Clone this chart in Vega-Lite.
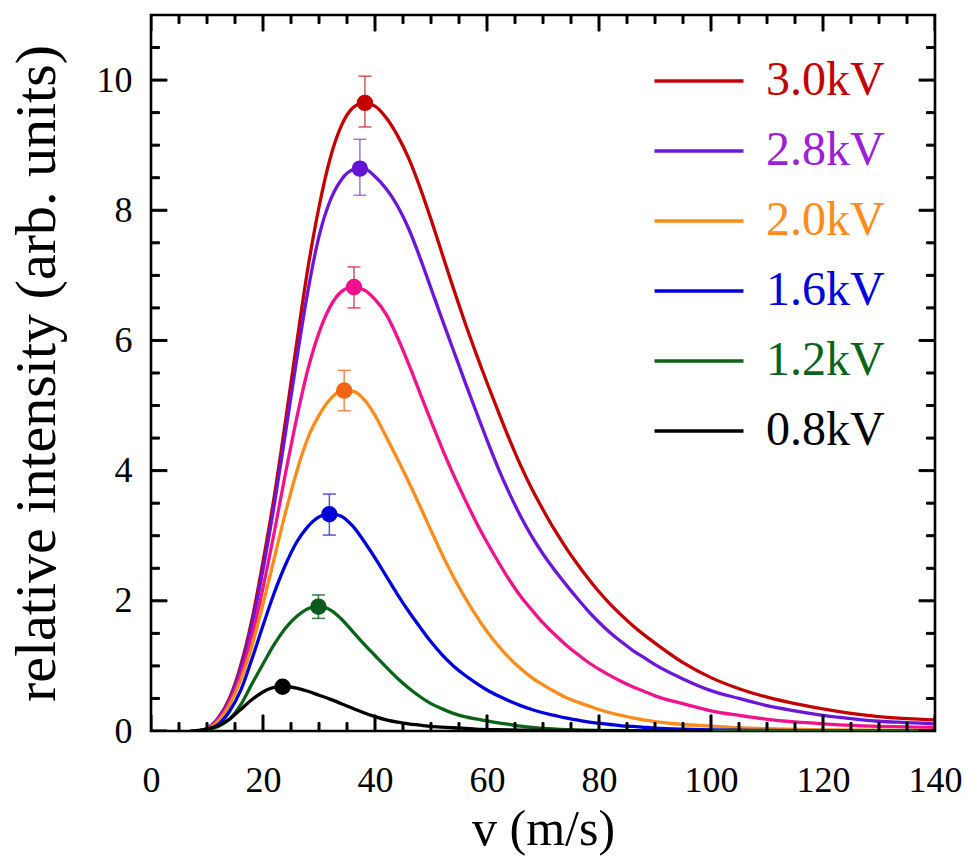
{
  "$schema": "https://vega.github.io/schema/vega-lite/v6.json",
  "width": 784,
  "height": 716,
  "autosize": {"type": "none"},
  "padding": {"left": 151, "top": 15, "right": 31, "bottom": 132},
  "background": "white",
  "config": {
    "font": "Liberation Serif",
    "view": {"stroke": "black", "strokeWidth": 2.6},
    "axis": {
      "domain": false, "grid": false, "ticks": false,
      "labelColor": "black", "labelFont": "Liberation Serif", "labelFontSize": 36,
      "titleFont": "Liberation Serif", "titleFontSize": 50, "titleFontWeight": "normal", "titleColor": "black",
      "labelFlush": false, "labelOverlap": false
    },
    "tick": {"stroke": "black", "strokeWidth": 1, "strokeOpacity": 1}
  },
  "datasets": {
    "xmaj": [{"t":0},{"t":20},{"t":40},{"t":60},{"t":80},{"t":100},{"t":120},{"t":140}],
    "xmin": [{"t":5},{"t":10},{"t":15},{"t":25},{"t":30},{"t":35},{"t":45},{"t":50},{"t":55},{"t":65},{"t":70},{"t":75},{"t":85},{"t":90},{"t":95},{"t":105},{"t":110},{"t":115},{"t":125},{"t":130},{"t":135}],
    "ymaj": [{"t":0},{"t":2},{"t":4},{"t":6},{"t":8},{"t":10}],
    "ymin": [{"t":0.5},{"t":1},{"t":1.5},{"t":2.5},{"t":3},{"t":3.5},{"t":4.5},{"t":5},{"t":5.5},{"t":6.5},{"t":7},{"t":7.5},{"t":8.5},{"t":9},{"t":9.5},{"t":10.5}],
    "curves": [
      {"s":"3.0kV","v":8,"I":0},{"s":"3.0kV","v":10,"I":0.04},{"s":"3.0kV","v":12,"I":0.2},{"s":"3.0kV","v":14,"I":0.5},{"s":"3.0kV","v":16,"I":1.0},{"s":"3.0kV","v":18,"I":1.7},{"s":"3.0kV","v":20,"I":2.6},{"s":"3.0kV","v":22,"I":3.6},{"s":"3.0kV","v":24,"I":4.75},{"s":"3.0kV","v":26,"I":5.95},{"s":"3.0kV","v":28,"I":7.1},{"s":"3.0kV","v":30,"I":8.05},{"s":"3.0kV","v":32,"I":8.8},{"s":"3.0kV","v":34,"I":9.3},{"s":"3.0kV","v":36,"I":9.57},{"s":"3.0kV","v":38,"I":9.65},{"s":"3.0kV","v":40,"I":9.6},{"s":"3.0kV","v":42,"I":9.42},{"s":"3.0kV","v":44,"I":9.15},{"s":"3.0kV","v":46,"I":8.8},{"s":"3.0kV","v":48,"I":8.36},{"s":"3.0kV","v":50,"I":7.86},{"s":"3.0kV","v":52,"I":7.33},{"s":"3.0kV","v":54,"I":6.8},{"s":"3.0kV","v":56,"I":6.29},{"s":"3.0kV","v":58,"I":5.81},{"s":"3.0kV","v":60,"I":5.35},{"s":"3.0kV","v":62,"I":4.91},{"s":"3.0kV","v":64,"I":4.48},{"s":"3.0kV","v":66,"I":4.08},{"s":"3.0kV","v":68,"I":3.72},{"s":"3.0kV","v":70,"I":3.4},{"s":"3.0kV","v":72,"I":3.1},{"s":"3.0kV","v":74,"I":2.83},{"s":"3.0kV","v":76,"I":2.58},{"s":"3.0kV","v":78,"I":2.35},{"s":"3.0kV","v":80,"I":2.14},{"s":"3.0kV","v":82,"I":1.95},{"s":"3.0kV","v":84,"I":1.78},{"s":"3.0kV","v":86,"I":1.62},{"s":"3.0kV","v":88,"I":1.48},{"s":"3.0kV","v":90,"I":1.35},{"s":"3.0kV","v":95,"I":1.05},{"s":"3.0kV","v":100,"I":0.82},{"s":"3.0kV","v":105,"I":0.65},{"s":"3.0kV","v":110,"I":0.52},{"s":"3.0kV","v":115,"I":0.42},{"s":"3.0kV","v":120,"I":0.34},{"s":"3.0kV","v":125,"I":0.27},{"s":"3.0kV","v":130,"I":0.22},{"s":"3.0kV","v":135,"I":0.19},{"s":"3.0kV","v":140,"I":0.17},
      {"s":"2.8kV","v":8,"I":0},{"s":"2.8kV","v":10,"I":0.04},{"s":"2.8kV","v":12,"I":0.19},{"s":"2.8kV","v":14,"I":0.48},{"s":"2.8kV","v":16,"I":0.95},{"s":"2.8kV","v":18,"I":1.62},{"s":"2.8kV","v":20,"I":2.48},{"s":"2.8kV","v":22,"I":3.47},{"s":"2.8kV","v":24,"I":4.57},{"s":"2.8kV","v":26,"I":5.7},{"s":"2.8kV","v":28,"I":6.75},{"s":"2.8kV","v":30,"I":7.6},{"s":"2.8kV","v":32,"I":8.15},{"s":"2.8kV","v":34,"I":8.47},{"s":"2.8kV","v":36,"I":8.62},{"s":"2.8kV","v":38,"I":8.64},{"s":"2.8kV","v":40,"I":8.52},{"s":"2.8kV","v":42,"I":8.33},{"s":"2.8kV","v":44,"I":8.07},{"s":"2.8kV","v":46,"I":7.72},{"s":"2.8kV","v":48,"I":7.28},{"s":"2.8kV","v":50,"I":6.8},{"s":"2.8kV","v":52,"I":6.32},{"s":"2.8kV","v":54,"I":5.85},{"s":"2.8kV","v":56,"I":5.38},{"s":"2.8kV","v":58,"I":4.92},{"s":"2.8kV","v":60,"I":4.47},{"s":"2.8kV","v":62,"I":4.04},{"s":"2.8kV","v":64,"I":3.65},{"s":"2.8kV","v":66,"I":3.3},{"s":"2.8kV","v":68,"I":2.99},{"s":"2.8kV","v":70,"I":2.72},{"s":"2.8kV","v":72,"I":2.48},{"s":"2.8kV","v":74,"I":2.26},{"s":"2.8kV","v":76,"I":2.05},{"s":"2.8kV","v":78,"I":1.85},{"s":"2.8kV","v":80,"I":1.67},{"s":"2.8kV","v":82,"I":1.51},{"s":"2.8kV","v":84,"I":1.37},{"s":"2.8kV","v":86,"I":1.24},{"s":"2.8kV","v":88,"I":1.13},{"s":"2.8kV","v":90,"I":1.02},{"s":"2.8kV","v":95,"I":0.8},{"s":"2.8kV","v":100,"I":0.62},{"s":"2.8kV","v":105,"I":0.5},{"s":"2.8kV","v":110,"I":0.39},{"s":"2.8kV","v":115,"I":0.31},{"s":"2.8kV","v":120,"I":0.24},{"s":"2.8kV","v":125,"I":0.19},{"s":"2.8kV","v":130,"I":0.15},{"s":"2.8kV","v":135,"I":0.13},{"s":"2.8kV","v":140,"I":0.11},
      {"s":"2.4kV","v":8,"I":0},{"s":"2.4kV","v":10,"I":0.035},{"s":"2.4kV","v":12,"I":0.17},{"s":"2.4kV","v":14,"I":0.44},{"s":"2.4kV","v":16,"I":0.86},{"s":"2.4kV","v":18,"I":1.45},{"s":"2.4kV","v":20,"I":2.2},{"s":"2.4kV","v":22,"I":3.05},{"s":"2.4kV","v":24,"I":3.95},{"s":"2.4kV","v":26,"I":4.8},{"s":"2.4kV","v":28,"I":5.55},{"s":"2.4kV","v":30,"I":6.12},{"s":"2.4kV","v":32,"I":6.52},{"s":"2.4kV","v":34,"I":6.75},{"s":"2.4kV","v":36,"I":6.82},{"s":"2.4kV","v":38,"I":6.78},{"s":"2.4kV","v":40,"I":6.63},{"s":"2.4kV","v":42,"I":6.4},{"s":"2.4kV","v":44,"I":6.05},{"s":"2.4kV","v":46,"I":5.64},{"s":"2.4kV","v":48,"I":5.2},{"s":"2.4kV","v":50,"I":4.76},{"s":"2.4kV","v":52,"I":4.34},{"s":"2.4kV","v":54,"I":3.94},{"s":"2.4kV","v":56,"I":3.57},{"s":"2.4kV","v":58,"I":3.22},{"s":"2.4kV","v":60,"I":2.9},{"s":"2.4kV","v":62,"I":2.6},{"s":"2.4kV","v":64,"I":2.32},{"s":"2.4kV","v":66,"I":2.07},{"s":"2.4kV","v":68,"I":1.86},{"s":"2.4kV","v":70,"I":1.66},{"s":"2.4kV","v":72,"I":1.49},{"s":"2.4kV","v":74,"I":1.33},{"s":"2.4kV","v":76,"I":1.19},{"s":"2.4kV","v":78,"I":1.06},{"s":"2.4kV","v":80,"I":0.95},{"s":"2.4kV","v":82,"I":0.85},{"s":"2.4kV","v":84,"I":0.76},{"s":"2.4kV","v":86,"I":0.68},{"s":"2.4kV","v":88,"I":0.61},{"s":"2.4kV","v":90,"I":0.54},{"s":"2.4kV","v":95,"I":0.42},{"s":"2.4kV","v":100,"I":0.31},{"s":"2.4kV","v":105,"I":0.24},{"s":"2.4kV","v":110,"I":0.18},{"s":"2.4kV","v":115,"I":0.14},{"s":"2.4kV","v":120,"I":0.11},{"s":"2.4kV","v":125,"I":0.085},{"s":"2.4kV","v":130,"I":0.07},{"s":"2.4kV","v":135,"I":0.062},{"s":"2.4kV","v":140,"I":0.057},
      {"s":"2.0kV","v":8,"I":0},{"s":"2.0kV","v":10,"I":0.03},{"s":"2.0kV","v":12,"I":0.15},{"s":"2.0kV","v":14,"I":0.4},{"s":"2.0kV","v":16,"I":0.78},{"s":"2.0kV","v":18,"I":1.3},{"s":"2.0kV","v":20,"I":1.95},{"s":"2.0kV","v":22,"I":2.65},{"s":"2.0kV","v":24,"I":3.35},{"s":"2.0kV","v":26,"I":3.98},{"s":"2.0kV","v":28,"I":4.5},{"s":"2.0kV","v":30,"I":4.85},{"s":"2.0kV","v":32,"I":5.1},{"s":"2.0kV","v":34,"I":5.22},{"s":"2.0kV","v":36,"I":5.22},{"s":"2.0kV","v":38,"I":5.1},{"s":"2.0kV","v":40,"I":4.85},{"s":"2.0kV","v":42,"I":4.52},{"s":"2.0kV","v":44,"I":4.18},{"s":"2.0kV","v":46,"I":3.83},{"s":"2.0kV","v":48,"I":3.46},{"s":"2.0kV","v":50,"I":3.08},{"s":"2.0kV","v":52,"I":2.71},{"s":"2.0kV","v":54,"I":2.37},{"s":"2.0kV","v":56,"I":2.06},{"s":"2.0kV","v":58,"I":1.78},{"s":"2.0kV","v":60,"I":1.53},{"s":"2.0kV","v":62,"I":1.31},{"s":"2.0kV","v":64,"I":1.12},{"s":"2.0kV","v":66,"I":0.96},{"s":"2.0kV","v":68,"I":0.82},{"s":"2.0kV","v":70,"I":0.71},{"s":"2.0kV","v":72,"I":0.61},{"s":"2.0kV","v":74,"I":0.52},{"s":"2.0kV","v":76,"I":0.45},{"s":"2.0kV","v":78,"I":0.39},{"s":"2.0kV","v":80,"I":0.33},{"s":"2.0kV","v":82,"I":0.28},{"s":"2.0kV","v":84,"I":0.24},{"s":"2.0kV","v":86,"I":0.2},{"s":"2.0kV","v":88,"I":0.17},{"s":"2.0kV","v":90,"I":0.145},{"s":"2.0kV","v":95,"I":0.1},{"s":"2.0kV","v":100,"I":0.075},{"s":"2.0kV","v":105,"I":0.05},{"s":"2.0kV","v":110,"I":0.035},{"s":"2.0kV","v":115,"I":0.025},{"s":"2.0kV","v":120,"I":0.018},{"s":"2.0kV","v":125,"I":0.014},{"s":"2.0kV","v":130,"I":0.012},{"s":"2.0kV","v":135,"I":0.01},{"s":"2.0kV","v":140,"I":0.01},
      {"s":"1.6kV","v":8,"I":0},{"s":"1.6kV","v":10,"I":0.025},{"s":"1.6kV","v":12,"I":0.1},{"s":"1.6kV","v":14,"I":0.3},{"s":"1.6kV","v":16,"I":0.62},{"s":"1.6kV","v":18,"I":1.1},{"s":"1.6kV","v":20,"I":1.62},{"s":"1.6kV","v":22,"I":2.12},{"s":"1.6kV","v":24,"I":2.55},{"s":"1.6kV","v":26,"I":2.9},{"s":"1.6kV","v":28,"I":3.14},{"s":"1.6kV","v":30,"I":3.29},{"s":"1.6kV","v":32,"I":3.34},{"s":"1.6kV","v":34,"I":3.3},{"s":"1.6kV","v":36,"I":3.15},{"s":"1.6kV","v":38,"I":2.92},{"s":"1.6kV","v":40,"I":2.66},{"s":"1.6kV","v":42,"I":2.38},{"s":"1.6kV","v":44,"I":2.1},{"s":"1.6kV","v":46,"I":1.84},{"s":"1.6kV","v":48,"I":1.6},{"s":"1.6kV","v":50,"I":1.37},{"s":"1.6kV","v":52,"I":1.17},{"s":"1.6kV","v":54,"I":1.0},{"s":"1.6kV","v":56,"I":0.86},{"s":"1.6kV","v":58,"I":0.74},{"s":"1.6kV","v":60,"I":0.63},{"s":"1.6kV","v":62,"I":0.54},{"s":"1.6kV","v":64,"I":0.46},{"s":"1.6kV","v":66,"I":0.39},{"s":"1.6kV","v":68,"I":0.33},{"s":"1.6kV","v":70,"I":0.28},{"s":"1.6kV","v":72,"I":0.24},{"s":"1.6kV","v":74,"I":0.2},{"s":"1.6kV","v":76,"I":0.17},{"s":"1.6kV","v":78,"I":0.14},{"s":"1.6kV","v":80,"I":0.12},{"s":"1.6kV","v":82,"I":0.1},{"s":"1.6kV","v":84,"I":0.08},{"s":"1.6kV","v":86,"I":0.07},{"s":"1.6kV","v":88,"I":0.057},{"s":"1.6kV","v":90,"I":0.045},{"s":"1.6kV","v":95,"I":0.028},{"s":"1.6kV","v":100,"I":0.018},{"s":"1.6kV","v":105,"I":0.012},{"s":"1.6kV","v":110,"I":0.008},{"s":"1.6kV","v":120,"I":0.004},{"s":"1.6kV","v":130,"I":0.002},{"s":"1.6kV","v":140,"I":0.001},
      {"s":"1.2kV","v":8,"I":0},{"s":"1.2kV","v":10,"I":0.02},{"s":"1.2kV","v":12,"I":0.07},{"s":"1.2kV","v":14,"I":0.18},{"s":"1.2kV","v":16,"I":0.4},{"s":"1.2kV","v":18,"I":0.72},{"s":"1.2kV","v":20,"I":1.03},{"s":"1.2kV","v":22,"I":1.33},{"s":"1.2kV","v":24,"I":1.58},{"s":"1.2kV","v":26,"I":1.76},{"s":"1.2kV","v":28,"I":1.88},{"s":"1.2kV","v":30,"I":1.92},{"s":"1.2kV","v":32,"I":1.86},{"s":"1.2kV","v":34,"I":1.72},{"s":"1.2kV","v":36,"I":1.53},{"s":"1.2kV","v":38,"I":1.34},{"s":"1.2kV","v":40,"I":1.16},{"s":"1.2kV","v":42,"I":0.98},{"s":"1.2kV","v":44,"I":0.81},{"s":"1.2kV","v":46,"I":0.66},{"s":"1.2kV","v":48,"I":0.53},{"s":"1.2kV","v":50,"I":0.42},{"s":"1.2kV","v":52,"I":0.34},{"s":"1.2kV","v":54,"I":0.27},{"s":"1.2kV","v":56,"I":0.22},{"s":"1.2kV","v":58,"I":0.185},{"s":"1.2kV","v":60,"I":0.155},{"s":"1.2kV","v":62,"I":0.125},{"s":"1.2kV","v":64,"I":0.1},{"s":"1.2kV","v":66,"I":0.075},{"s":"1.2kV","v":68,"I":0.055},{"s":"1.2kV","v":70,"I":0.04},{"s":"1.2kV","v":75,"I":0.02},{"s":"1.2kV","v":80,"I":0.01},{"s":"1.2kV","v":90,"I":0.005},{"s":"1.2kV","v":100,"I":0.002},{"s":"1.2kV","v":110,"I":0.001},{"s":"1.2kV","v":140,"I":0},
      {"s":"0.8kV","v":7,"I":0},{"s":"0.8kV","v":8,"I":0.005},{"s":"0.8kV","v":10,"I":0.03},{"s":"0.8kV","v":12,"I":0.08},{"s":"0.8kV","v":14,"I":0.18},{"s":"0.8kV","v":16,"I":0.33},{"s":"0.8kV","v":18,"I":0.48},{"s":"0.8kV","v":20,"I":0.6},{"s":"0.8kV","v":22,"I":0.67},{"s":"0.8kV","v":24,"I":0.68},{"s":"0.8kV","v":26,"I":0.66},{"s":"0.8kV","v":28,"I":0.61},{"s":"0.8kV","v":30,"I":0.55},{"s":"0.8kV","v":32,"I":0.49},{"s":"0.8kV","v":34,"I":0.42},{"s":"0.8kV","v":36,"I":0.35},{"s":"0.8kV","v":38,"I":0.28},{"s":"0.8kV","v":40,"I":0.22},{"s":"0.8kV","v":42,"I":0.17},{"s":"0.8kV","v":44,"I":0.135},{"s":"0.8kV","v":46,"I":0.11},{"s":"0.8kV","v":48,"I":0.09},{"s":"0.8kV","v":50,"I":0.07},{"s":"0.8kV","v":54,"I":0.05},{"s":"0.8kV","v":58,"I":0.03},{"s":"0.8kV","v":62,"I":0.02},{"s":"0.8kV","v":70,"I":0.01},{"s":"0.8kV","v":80,"I":0.005},{"s":"0.8kV","v":90,"I":0.002},{"s":"0.8kV","v":100,"I":0.001}
    ],
    "peaks": [
      {"s":"3.0kV","v":38.2,"I":9.65,"lo":9.28,"hi":10.06},
      {"s":"2.8kV","v":37.3,"I":8.64,"lo":8.23,"hi":9.09},
      {"s":"2.4kV","v":36.25,"I":6.82,"lo":6.5,"hi":7.13},
      {"s":"2.0kV","v":34.5,"I":5.23,"lo":4.92,"hi":5.54},
      {"s":"1.6kV","v":31.85,"I":3.33,"lo":3.01,"hi":3.64},
      {"s":"1.2kV","v":29.9,"I":1.91,"lo":1.73,"hi":2.09},
      {"s":"0.8kV","v":23.5,"I":0.68,"lo":0.68,"hi":0.68}
    ]
  },
  "layer": [
    {
      "data": {"name": "curves"},
      "mark": {"type": "line", "strokeWidth": 3.3, "interpolate": "monotone", "clip": true},
      "encoding": {
        "x": {"field": "v", "type": "quantitative", "scale": {"domain": [0, 140], "nice": false, "zero": false},
          "axis": {"orient": "bottom", "values": [0,20,40,60,80,100,120,140],
            "labelPadding": 32, "title": "v (m/s)", "titlePadding": 6}},
        "y": {"field": "I", "type": "quantitative", "scale": {"domain": [0, 11], "nice": false, "zero": false},
          "axis": {"orient": "left", "values": [0,2,4,6,8,10],
            "labelPadding": 19, "title": "relative intensity (arb. units)", "titleFontSize": 58, "titlePadding": 30}},
        "color": {"field": "s", "type": "nominal",
          "scale": {"domain": ["3.0kV","2.8kV","2.4kV","2.0kV","1.6kV","1.2kV","0.8kV"],
                    "range": ["#c40000","#6b16d9","#f2128c","#ff8c1a","#0000dc","#0a6418","#000000"]},
          "legend": {"orient": "none", "legendX": 524, "legendY": 42, "padding": 0, "title": null,
            "values": ["3.0kV","2.8kV","2.0kV","1.6kV","1.2kV","0.8kV"],
            "symbolType": "M-2.5,0H2.5", "symbolSize": 1267, "symbolStrokeWidth": 3.6,
            "labelFont": "Liberation Serif", "labelFontSize": 48, "labelOffset": 43, "rowPadding": 22,
            "labelColor": {"expr": "datum.value === '3.0kV' ? '#c40000' : datum.value === '2.8kV' ? '#9b20d8' : datum.value === '2.0kV' ? '#ff8c1a' : datum.value === '1.6kV' ? '#0000dc' : datum.value === '1.2kV' ? '#0a6418' : '#000000'"}}}
      }
    },
    {
      "data": {"name": "xmaj"},
      "mark": {"type": "tick", "orient": "vertical", "size": 32, "thickness": 2, "color": "black", "stroke": "black", "strokeWidth": 1, "opacity": 1, "clip": true},
      "encoding": {"x": {"field": "t", "type": "quantitative", "axis": null}, "y": {"datum": 0, "axis": null}}
    },
    {
      "data": {"name": "xmaj"},
      "mark": {"type": "tick", "orient": "vertical", "size": 32, "thickness": 2, "color": "black", "stroke": "black", "strokeWidth": 1, "opacity": 1, "clip": true},
      "encoding": {"x": {"field": "t", "type": "quantitative", "axis": null}, "y": {"datum": 11, "axis": null}}
    },
    {
      "data": {"name": "xmin"},
      "mark": {"type": "tick", "orient": "vertical", "size": 17, "thickness": 2, "color": "black", "stroke": "black", "strokeWidth": 1, "opacity": 1, "clip": true},
      "encoding": {"x": {"field": "t", "type": "quantitative", "axis": null}, "y": {"datum": 0, "axis": null}}
    },
    {
      "data": {"name": "xmin"},
      "mark": {"type": "tick", "orient": "vertical", "size": 17, "thickness": 2, "color": "black", "stroke": "black", "strokeWidth": 1, "opacity": 1, "clip": true},
      "encoding": {"x": {"field": "t", "type": "quantitative", "axis": null}, "y": {"datum": 11, "axis": null}}
    },
    {
      "data": {"name": "ymaj"},
      "mark": {"type": "tick", "orient": "horizontal", "size": 32, "thickness": 2, "color": "black", "stroke": "black", "strokeWidth": 1, "opacity": 1, "clip": true},
      "encoding": {"y": {"field": "t", "type": "quantitative", "axis": null}, "x": {"datum": 0, "axis": null}}
    },
    {
      "data": {"name": "ymaj"},
      "mark": {"type": "tick", "orient": "horizontal", "size": 32, "thickness": 2, "color": "black", "stroke": "black", "strokeWidth": 1, "opacity": 1, "clip": true},
      "encoding": {"y": {"field": "t", "type": "quantitative", "axis": null}, "x": {"datum": 140, "axis": null}}
    },
    {
      "data": {"name": "ymin"},
      "mark": {"type": "tick", "orient": "horizontal", "size": 17, "thickness": 2, "color": "black", "stroke": "black", "strokeWidth": 1, "opacity": 1, "clip": true},
      "encoding": {"y": {"field": "t", "type": "quantitative", "axis": null}, "x": {"datum": 0, "axis": null}}
    },
    {
      "data": {"name": "ymin"},
      "mark": {"type": "tick", "orient": "horizontal", "size": 17, "thickness": 2, "color": "black", "stroke": "black", "strokeWidth": 1, "opacity": 1, "clip": true},
      "encoding": {"y": {"field": "t", "type": "quantitative", "axis": null}, "x": {"datum": 140, "axis": null}}
    },
    {
      "data": {"name": "peaks"},
      "mark": {"type": "rule", "strokeWidth": 1.5, "opacity": 0.8},
      "encoding": {
        "x": {"field": "v", "type": "quantitative", "axis": null},
        "y": {"field": "lo", "type": "quantitative", "axis": null},
        "y2": {"field": "hi"},
        "stroke": {"field": "s", "type": "nominal", "legend": null,
          "scale": {"domain": ["3.0kV","2.8kV","2.4kV","2.0kV","1.6kV","1.2kV","0.8kV"],
                    "range": ["#c83030","#8a52e0","#d02840","#f06a28","#2a2ae0","#0a6418","#000000"]}}
      }
    },
    {
      "data": {"name": "peaks"},
      "mark": {"type": "point", "shape": "stroke", "size": 169, "strokeWidth": 1.5, "filled": false, "opacity": 0.8},
      "encoding": {
        "x": {"field": "v", "type": "quantitative", "axis": null},
        "y": {"field": "lo", "type": "quantitative", "axis": null},
        "stroke": {"field": "s", "type": "nominal", "legend": null}
      }
    },
    {
      "data": {"name": "peaks"},
      "mark": {"type": "point", "shape": "stroke", "size": 169, "strokeWidth": 1.5, "filled": false, "opacity": 0.8},
      "encoding": {
        "x": {"field": "v", "type": "quantitative", "axis": null},
        "y": {"field": "hi", "type": "quantitative", "axis": null},
        "stroke": {"field": "s", "type": "nominal", "legend": null}
      }
    },
    {
      "data": {"name": "peaks"},
      "mark": {"type": "point", "filled": true, "size": 270, "opacity": 1, "strokeWidth": 0},
      "encoding": {
        "x": {"field": "v", "type": "quantitative", "axis": null},
        "y": {"field": "I", "type": "quantitative", "axis": null},
        "fill": {"field": "s", "type": "nominal", "legend": null,
          "scale": {"domain": ["3.0kV","2.8kV","2.4kV","2.0kV","1.6kV","1.2kV","0.8kV"],
                    "range": ["#c40000","#6414d2","#f0108c","#f06414","#0000d8","#0a5a1e","#000000"]}}
      }
    }
  ],
  "resolve": {"axis": {"x": "independent", "y": "independent"}}
}
